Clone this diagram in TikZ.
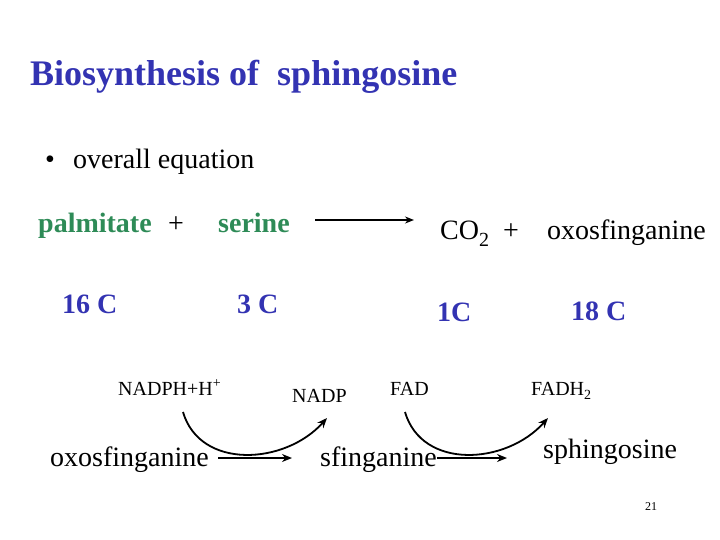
\documentclass[tikz,border=0pt]{standalone}
\usepackage{fontspec}
\setmainfont{Liberation Serif}
\usetikzlibrary{arrows.meta}
\definecolor{ttlblue}{RGB}{51,51,178}
\definecolor{sgreen}{RGB}{46,139,87}
\newcommand{\lowsub}[2]{\raisebox{#1}{\fontsize{#2}{#2}\selectfont 2}}
\begin{document}
\begin{tikzpicture}[x=1pt,y=-1pt,
  lbl/.style={inner sep=0pt,anchor=base west},
  big/.style={lbl,font=\fontsize{28}{30}\selectfont},
  grn/.style={big,font=\fontsize{28}{30}\selectfont\bfseries,text=sgreen},
  num/.style={big,font=\fontsize{28}{30}\selectfont\bfseries,text=ttlblue},
  cof/.style={lbl,font=\fontsize{20}{22}\selectfont},
  arr/.style={line width=1.8pt,-{Stealth[length=10pt,width=8pt]}}]
\useasboundingbox (0,0) rectangle (720,540);
\node[lbl,font=\fontsize{36}{40}\selectfont\bfseries,text=ttlblue] (title) at (30,86) {Biosynthesis of\ \ sphingosine};
\node[big] (bul) at (45,169) {\textbullet};
\node[big] (ov) at (73,169) {overall equation};
\node[grn] (palm) at (38,233) {palmitate};
\node[big] (p1) at (168,233) {+};
\node[grn] (ser) at (218,233) {serine};
\coordinate (a1) at (315,220);
\coordinate (a2) at (414,220);
\draw[line width=1.8pt,-{Stealth[length=9pt,width=7pt]}] (a1) -- (a2);
\node[big] (co2) at (440,240) {CO\lowsub{-7pt}{20}};
\node[big] (p2) at (503,240) {+};
\node[big] (oxo) at (547,240) {oxosfinganine};
\node[num] (n16) at (62,313) {16 C};
\node[num] (n3) at (237,313) {3 C};
\node[num] (n1) at (437,321) {1C};
\node[num] (n18) at (571,320) {18 C};
\node[cof] (nadph) at (118,395) {NADPH+H\textsuperscript{+}};
\node[cof] (nadp) at (292,402) {NADP};
\node[cof] (fad) at (390,395) {FAD};
\node[cof] (fadh) at (531,395) {FADH\lowsub{-4pt}{14}};
\node[big] (oxo2) at (50,466) {oxosfinganine};
\node[big] (sfin) at (320,466) {sfinganine};
\node[big] (sph) at (543,458) {sphingosine};
\node[lbl,font=\fontsize{12}{14}\selectfont] (pg) at (645,510) {21};
% reaction arrows
\coordinate (h1s) at (218,458);
\coordinate (h1e) at (292,458);
\coordinate (c1s) at (183,412);
\coordinate (c1e) at (327,418);
\draw[arr] (h1s) -- (h1e);
\draw[arr] (c1s) .. controls (200,470) and (285,465) .. (c1e);
\coordinate (h2s) at (437,458);
\coordinate (h2e) at (507,458);
\coordinate (c2s) at (405,412);
\coordinate (c2e) at (548,418);
\draw[arr] (h2s) -- (h2e);
\draw[arr] (c2s) .. controls (422,470) and (506,465) .. (c2e);
\end{tikzpicture}
\end{document}
